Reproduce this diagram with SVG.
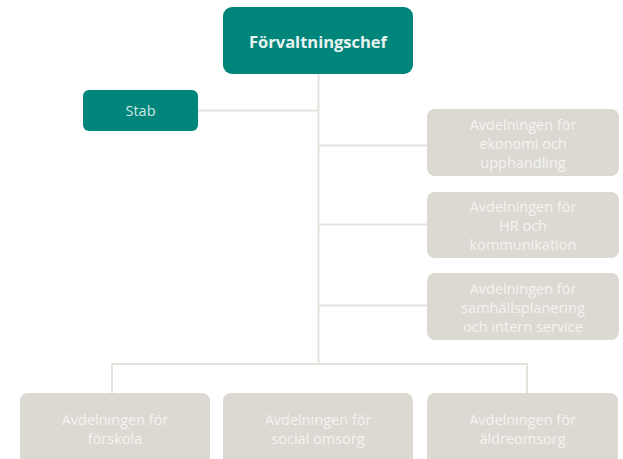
<svg xmlns="http://www.w3.org/2000/svg" width="623" height="459" viewBox="0 0 623 459">
<style>
.teal{fill:#00857a}
.grey{fill:#dcd9d3}
.conn{stroke:#e6e3dc;stroke-width:2;fill:none}
text{font-family:"Open Sans","Liberation Sans",sans-serif;text-anchor:middle}
.t{font-size:14.5px;fill:#f4f3ef}
.h{font-size:16.5px;font-weight:bold;fill:#e8f3f1}
.s{font-size:14.5px;fill:#cfe7e3}
</style>
<rect width="623" height="459" fill="#ffffff"/>
<g id="connectors" class="conn">
<path d="M318.5 74V364"/>
<path d="M198 110.5H318.5"/>
<path d="M318.5 145.5H427"/>
<path d="M318.5 224.5H427"/>
<path d="M318.5 305.5H427"/>
<path d="M112 393V364H527V393"/>
</g>
<g id="chef"><rect class="teal" x="223" y="7" width="190" height="67" rx="9"/><text class="h" x="318" y="48">Förvaltningschef</text></g>
<g id="stab"><rect class="teal" x="83" y="90" width="115" height="41" rx="6"/><text class="s" x="140.5" y="116">Stab</text></g>
<g id="ekonomi"><rect class="grey" x="427" y="109" width="192" height="67" rx="8"/><text class="t" x="523" y="130">Avdelningen för</text><text class="t" x="523" y="149">ekonomi och</text><text class="t" x="523" y="168">upphandling</text></g>
<g id="hr"><rect class="grey" x="427" y="192" width="192" height="66" rx="8"/><text class="t" x="523" y="212">Avdelningen för</text><text class="t" x="523" y="231">HR och</text><text class="t" x="523" y="250">kommunikation</text></g>
<g id="samhall"><rect class="grey" x="427" y="273" width="192" height="67" rx="8"/><text class="t" x="523" y="294">Avdelningen för</text><text class="t" x="523" y="313">samhällsplanering</text><text class="t" x="523" y="332">och intern service</text></g>
<g id="forskola"><rect class="grey" x="20" y="393" width="190" height="75" rx="8"/><text class="t" x="115" y="425">Avdelningen för</text><text class="t" x="115" y="444">förskola</text></g>
<g id="social"><rect class="grey" x="223" y="393" width="190" height="75" rx="8"/><text class="t" x="318" y="425">Avdelningen för</text><text class="t" x="318" y="444">social omsorg</text></g>
<g id="aldre"><rect class="grey" x="427" y="393" width="191" height="75" rx="8"/><text class="t" x="522.5" y="425">Avdelningen för</text><text class="t" x="522.5" y="444">äldreomsorg</text></g>
</svg>
